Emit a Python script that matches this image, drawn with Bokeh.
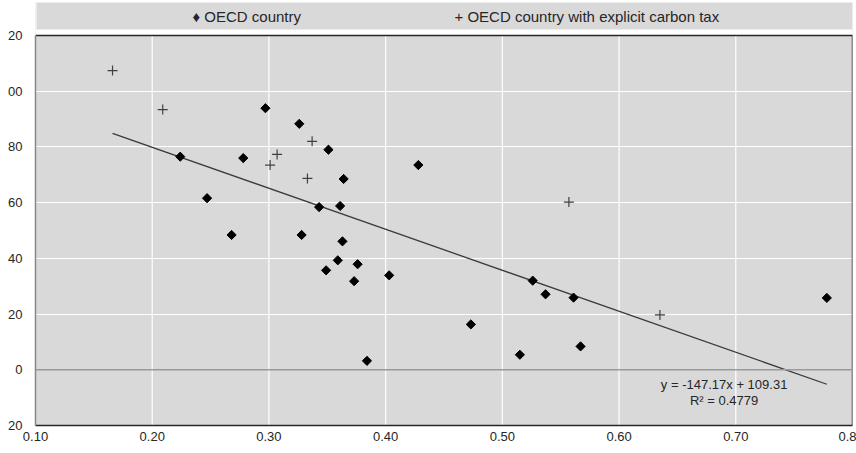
import math
from bokeh.plotting import figure
from bokeh.models import Range1d, FixedTicker, Span, Label
from bokeh.embed import file_html
from bokeh.resources import INLINE

# ---- data ----
oecd_x = [0.297, 0.326, 0.351, 0.224, 0.278, 0.428, 0.364, 0.247, 0.343, 0.361,
          0.268, 0.328, 0.363, 0.359, 0.376, 0.349, 0.373, 0.403, 0.384, 0.473,
          0.515, 0.526, 0.537, 0.561, 0.567, 0.778]
oecd_y = [93.9, 88.3, 79.0, 76.5, 76.0, 73.5, 68.5, 61.6, 58.4, 58.8,
          48.4, 48.4, 46.1, 39.3, 37.9, 35.7, 31.8, 33.9, 3.2, 16.3,
          5.4, 32.0, 27.1, 25.9, 8.4, 25.8]

tax_x = [0.166, 0.209, 0.301, 0.307, 0.337, 0.333, 0.557, 0.635]
tax_y = [107.4, 93.4, 73.5, 77.3, 82.0, 68.7, 60.2, 19.7]

trend_slope = -147.17
trend_intercept = 109.31
trend_r2 = 0.4779

legend_labels = ["OECD country", "OECD country with  explicit carbon tax"]

x_ticks = [0.1, 0.2, 0.3, 0.4, 0.5, 0.6, 0.7, 0.8]
x_tick_labels = ["0.10", "0.20", "0.30", "0.40", "0.50", "0.60", "0.70", "0.8"]
y_ticks = [-20, 0, 20, 40, 60, 80, 100, 120]
y_tick_labels = ["20", "0", "20", "40", "60", "80", "00", "20"]

FONT = "Liberation Sans"
TXT = "#262626"
BG = "#d9d9d9"
DARK = "#262626"

# layout (canvas pixels)
W, H = 856, 453
ML, MR, MB = 35, 4, 28
PLOT_TOP = 35          # top edge of the data area
LEG_TOP, LEG_BOT = 2, 29
X0, X1, Y0, Y1 = 0.1, 0.8, -20, 120
FW = W - ML - MR
PH = H - MB - PLOT_TOP
UPP = (Y1 - Y0) / PH   # data units per pixel (vertical)


def dx(px):  # canvas px -> data x
    return X0 + (px - ML) * (X1 - X0) / FW


def dy(py):  # canvas px -> data y
    return Y1 + (PLOT_TOP - py) * UPP


p = figure(width=W, height=H, x_range=Range1d(X0, X1), y_range=Range1d(Y0, dy(LEG_TOP)),
           toolbar_location=None, output_backend="svg",
           min_border_left=ML, min_border_right=MR, min_border_top=LEG_TOP,
           min_border_bottom=MB)
p.background_fill_color = BG
p.border_fill_color = "white"
p.outline_line_color = None

# white gap between legend strip and plot area
p.quad(left=X0, right=X1, bottom=Y1, top=dy(LEG_BOT), fill_color="white", line_color=None)
p.quad(left=X0, right=dx(36), bottom=Y1, top=dy(LEG_TOP), fill_color="white", line_color=None)

p.xgrid.visible = False
p.ygrid.grid_line_color = "white"
p.ygrid.grid_line_width = 1.2
# vertical grid lines only inside the data area
p.segment(x0=x_ticks, x1=x_ticks, y0=[Y0] * len(x_ticks), y1=[Y1] * len(x_ticks),
          line_color="white", line_width=1.2)

p.xaxis.ticker = FixedTicker(ticks=x_ticks)
p.yaxis.ticker = FixedTicker(ticks=y_ticks)
p.ygrid.ticker = FixedTicker(ticks=y_ticks)
p.xaxis.major_label_overrides = {t: l for t, l in zip(x_ticks, x_tick_labels)}
p.yaxis.major_label_overrides = {t: l for t, l in zip(y_ticks, y_tick_labels)}
for ax in (p.xaxis, p.yaxis):
    ax.major_tick_out = 0
    ax.major_tick_in = 0
    ax.minor_tick_out = 0
    ax.minor_tick_in = 0
    ax.major_label_text_font = FONT
    ax.major_label_text_font_size = "13px"
    ax.major_label_text_color = TXT
p.xaxis.axis_line_color = DARK
p.xaxis.axis_line_width = 1.5
p.yaxis.axis_line_color = "#868686"
p.yaxis.axis_line_width = 1.5
p.yaxis.bounds = (Y0, Y1)
p.yaxis.major_label_standoff = 13
p.xaxis.major_label_standoff = 6

# top and right borders of the data area
p.line([X0, X1, X1], [Y1, Y1, Y0], line_color=DARK, line_width=1.5)

p.add_layout(Span(location=0, dimension="width", line_color="#9a9a9a", line_width=1.5))

# trend line computed from the regression equation over the data's x extent
all_x = oecd_x + tax_x
tx = [min(all_x), max(all_x)]
ty = [trend_slope * v + trend_intercept for v in tx]
p.line(tx, ty, line_color="#3a3a3a", line_width=1.3)

p.scatter(oecd_x, oecd_y, marker="square", angle=math.pi / 4, size=6.5,
          fill_color="black", line_color="black")
p.scatter(tax_x, tax_y, marker="cross", size=10, line_color="#404040", line_width=1.2)

eq = "y = %.2fx + %.2f" % (trend_slope, trend_intercept)
p.add_layout(Label(x=0.69, y=-5.2, text=eq, text_align="center", text_baseline="middle",
                   text_font=FONT, text_font_size="13px", text_color=TXT))
p.add_layout(Label(x=0.69, y=-11.0, text="R² = %.4f" % trend_r2, text_align="center",
                   text_baseline="middle", text_font=FONT, text_font_size="13px",
                   text_color=TXT))

# ---- legend strip ----
p.add_layout(Label(x=dx(192), y=dy(15.5), text="♦ " + legend_labels[0],
                   text_baseline="middle", text_font=FONT, text_font_size="15px",
                   text_color=TXT))
p.add_layout(Label(x=dx(454), y=dy(15.5), text="+ " + legend_labels[1],
                   text_baseline="middle", text_font=FONT, text_font_size="15px",
                   text_color=TXT))

open("out.html", "w").write(file_html(p, INLINE))
